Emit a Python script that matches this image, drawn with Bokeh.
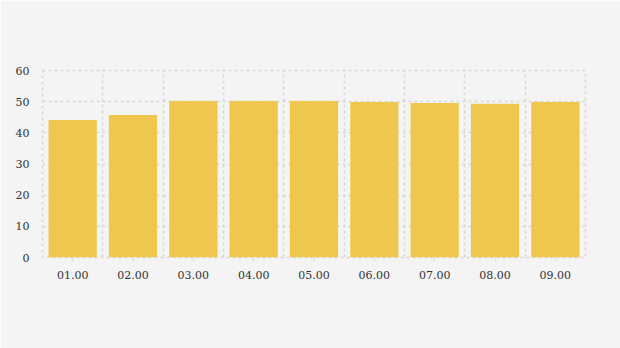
from bokeh.plotting import figure
from bokeh.models import FixedTicker, Range1d
from bokeh.embed import file_html
from bokeh.resources import INLINE

categories = ["01.00", "02.00", "03.00", "04.00", "05.00", "06.00", "07.00", "08.00", "09.00"]
values = [44.1, 45.7, 50.2, 50.2, 50.2, 49.9, 49.6, 49.3, 49.9]
y_ticks = [0, 10, 20, 30, 40, 50, 60]

xs = [i + 0.5 for i in range(len(categories))]

p = figure(width=620, height=348, output_backend="svg", toolbar_location=None,
           x_range=Range1d(0, len(categories)), y_range=Range1d(0, 60),
           min_border_left=42, min_border_right=35, min_border_top=70, min_border_bottom=91)
p.background_fill_color = "#f4f4f4"
p.border_fill_color = "#f4f4f4"
p.outline_line_color = "#d8d8d8"
p.outline_line_dash = "3 3"
p.outline_line_width = 1.5

p.vbar(x=xs, top=values, width=0.8, color="#efc74f", line_color=None)

font = "DejaVu Serif"
p.xaxis.ticker = FixedTicker(ticks=xs)
p.xaxis.major_label_overrides = {x: c for x, c in zip(xs, categories)}
p.xaxis.axis_line_color = None
p.xaxis.major_tick_in = 0
p.xaxis.major_tick_out = 4
p.xaxis.major_tick_line_color = "#dddddd"
p.xaxis.minor_tick_line_color = None
p.xaxis.major_label_standoff = 9
p.xaxis.major_label_text_font = font
p.xaxis.major_label_text_font_size = "11px"
p.xaxis.major_label_text_color = "#333333"

p.yaxis.ticker = FixedTicker(ticks=y_ticks)
p.yaxis.axis_line_color = None
p.yaxis.major_tick_line_color = None
p.yaxis.minor_tick_line_color = None
p.yaxis.major_tick_in = 0
p.yaxis.major_tick_out = 0
p.yaxis.major_label_standoff = 13
p.yaxis.major_label_text_font = font
p.yaxis.major_label_text_font_size = "11px"
p.yaxis.major_label_text_color = "#333333"

p.xgrid.ticker = FixedTicker(ticks=list(range(len(categories) + 1)))
p.ygrid.ticker = FixedTicker(ticks=y_ticks)
for g in (p.xgrid, p.ygrid):
    g.grid_line_color = "#d8d8d8"
    g.grid_line_dash = "3 3"
    g.grid_line_width = 1.5

open("out.html", "w").write(file_html(p, INLINE))
